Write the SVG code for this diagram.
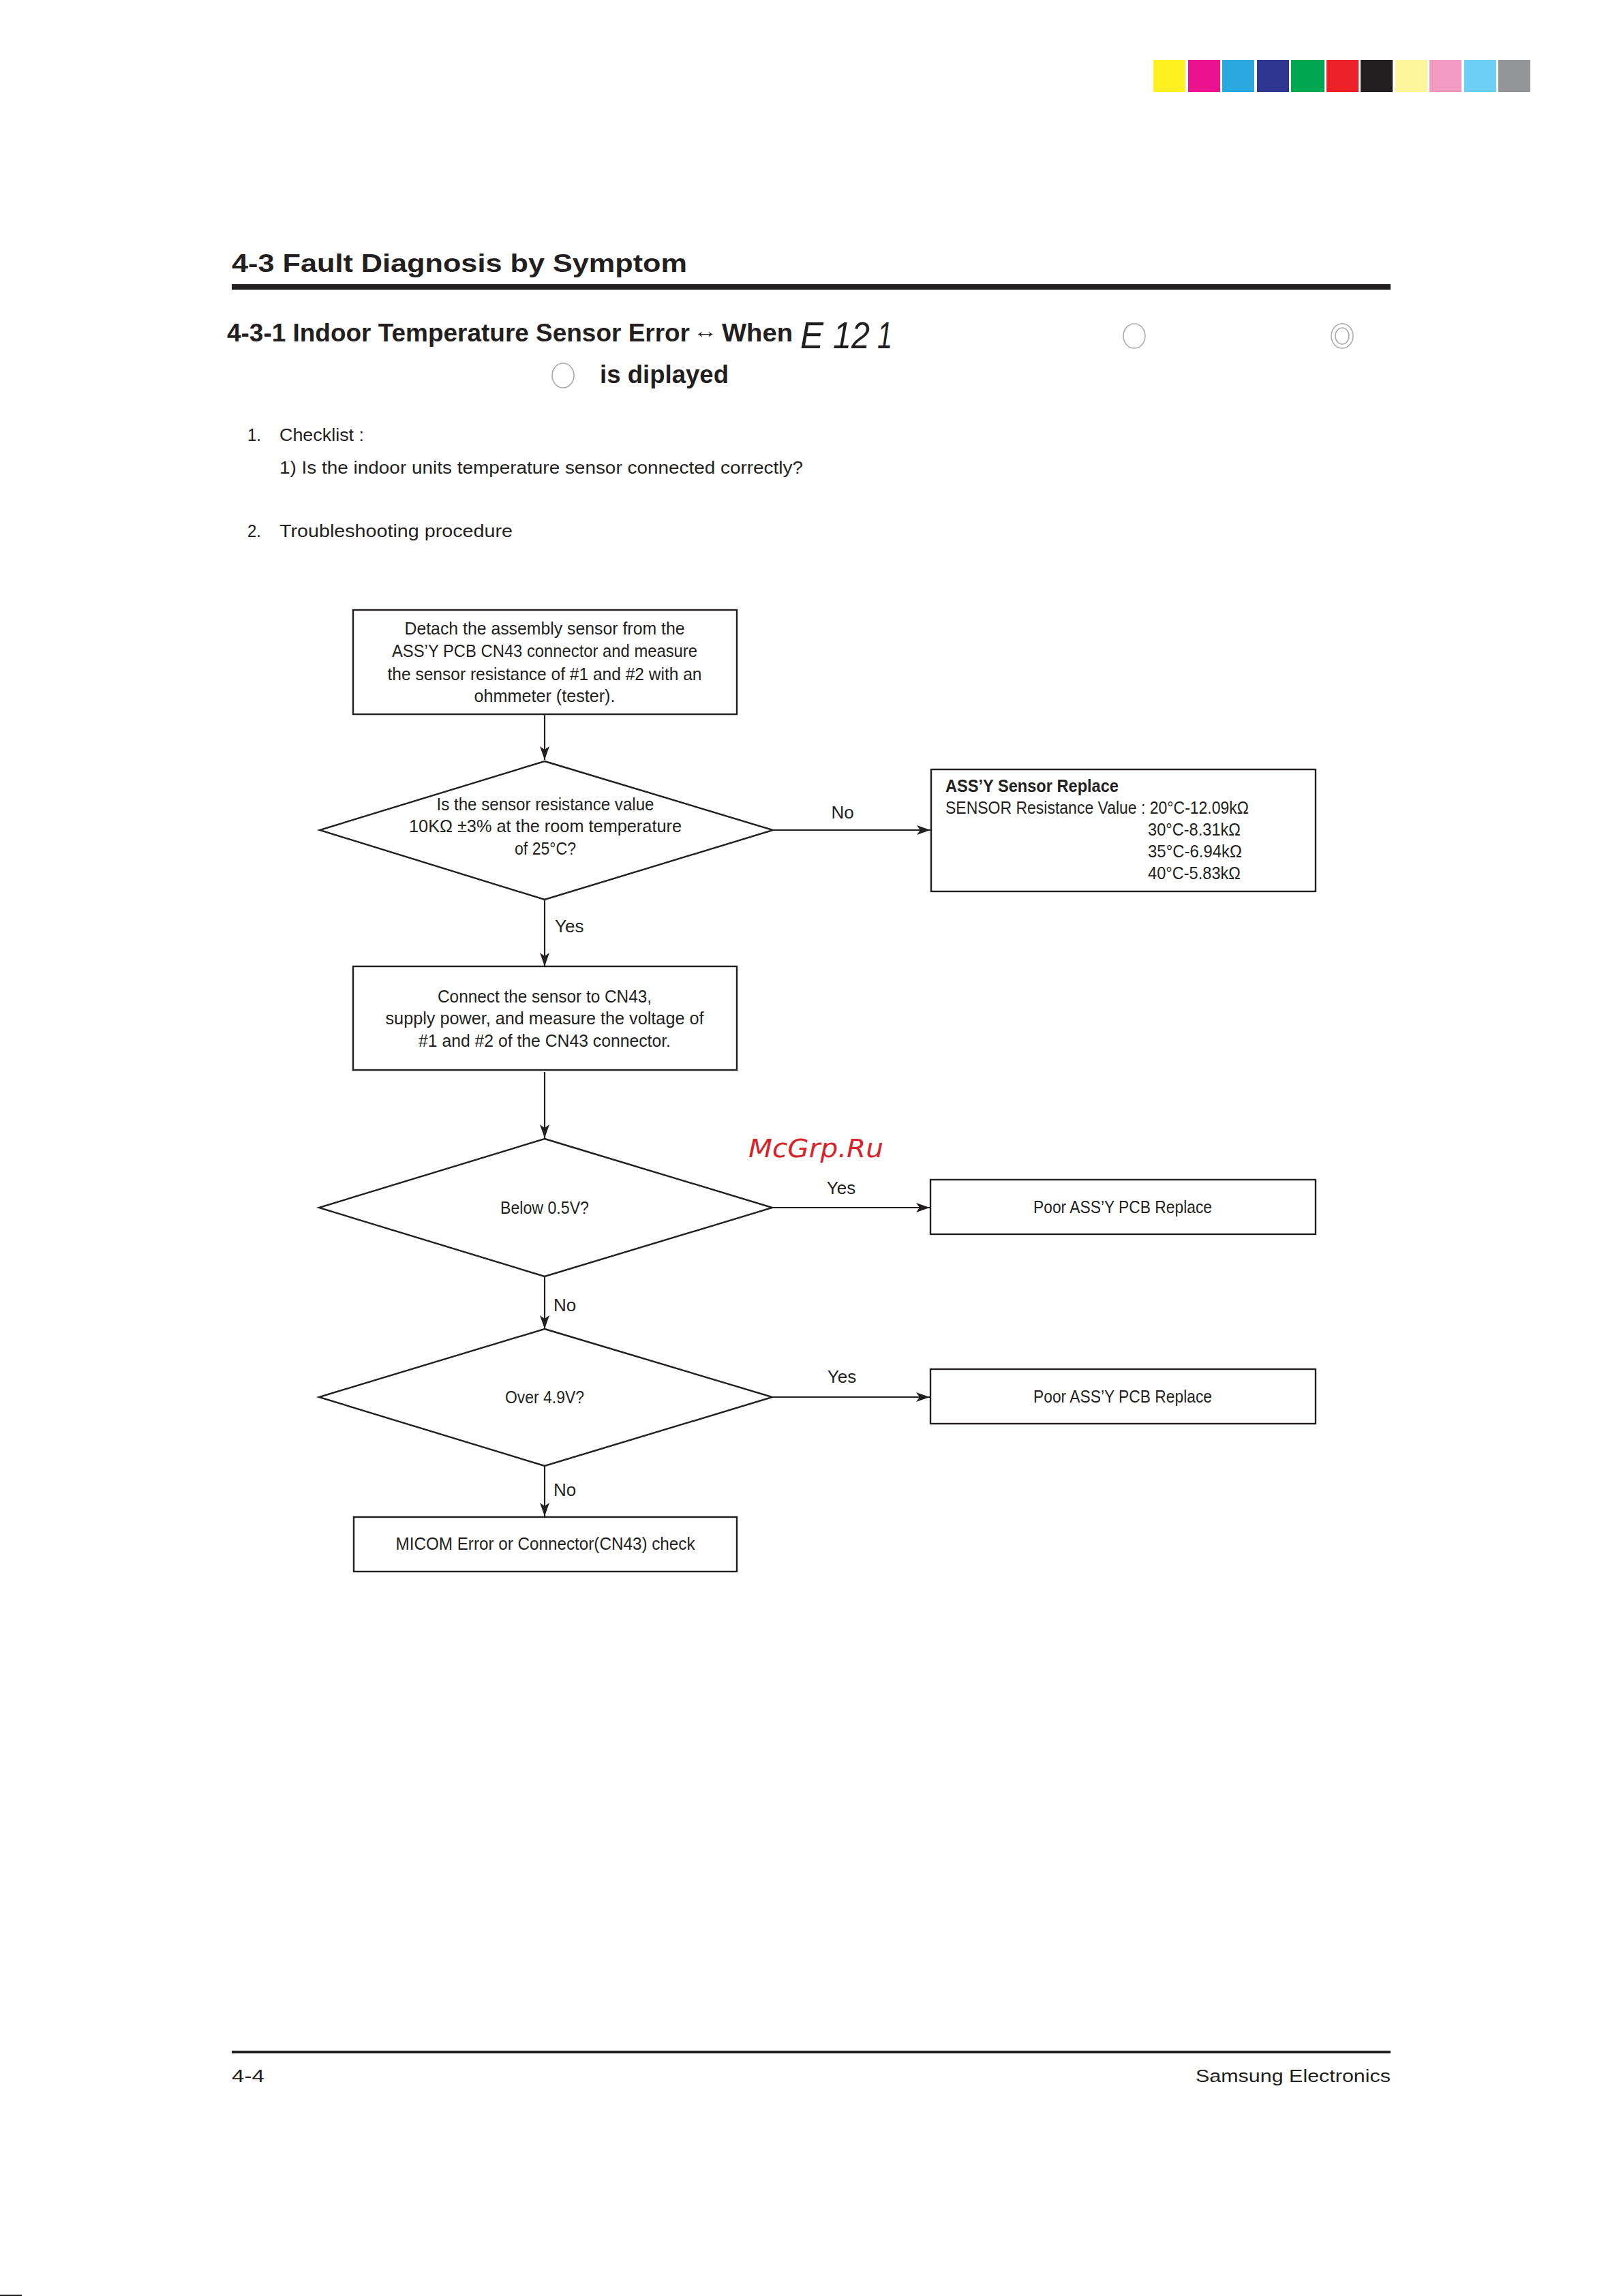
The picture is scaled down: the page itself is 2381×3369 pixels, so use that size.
<svg xmlns="http://www.w3.org/2000/svg" width="2381" height="3369" viewBox="0 0 2381 3369">
<style>
.t{font-family:"Liberation Sans",Arial,sans-serif;font-size:26px;fill:#231F20}
.c{text-anchor:middle}
.b{font-weight:bold}
.h{font-family:"Liberation Sans",Arial,sans-serif;font-weight:bold;font-size:37px;fill:#231F20}
.box{fill:#fff;stroke:#231F20;stroke-width:2.4}
.ln{fill:none;stroke:#231F20;stroke-width:2.2}
.circ{fill:none;stroke:#A7A9AC;stroke-width:1.6}
.seg{font-family:"Liberation Sans",Arial,sans-serif;font-style:italic;font-size:56px;fill:#231F20}
</style>
<defs>
<marker id="ah" markerUnits="userSpaceOnUse" markerWidth="22" markerHeight="16" refX="20" refY="7" orient="auto">
<path d="M0,0 L20,7 L0,14 L5,7 Z" fill="#231F20"/>
</marker>
</defs>
<rect width="2381" height="3369" fill="#fff"/>
<g id="colorbar">
<rect x="1692" y="88" width="47" height="47" fill="#FFF022"/>
<rect x="1743" y="88" width="47" height="47" fill="#EC118F"/>
<rect x="1793" y="88" width="47" height="47" fill="#2CA8E0"/>
<rect x="1844" y="88" width="47" height="47" fill="#2E368F"/>
<rect x="1894" y="88" width="49" height="47" fill="#00A650"/>
<rect x="1946" y="88" width="47" height="47" fill="#ED2227"/>
<rect x="1996" y="88" width="47" height="47" fill="#231F20"/>
<rect x="2047" y="88" width="47" height="47" fill="#FFF59B"/>
<rect x="2097" y="88" width="47" height="47" fill="#F39AC1"/>
<rect x="2148" y="88" width="47" height="47" fill="#6DCFF6"/>
<rect x="2198" y="88" width="47" height="47" fill="#939598"/>
</g>
<g id="header">
<text class="h" x="340" y="399" font-size="43" textLength="668" lengthAdjust="spacingAndGlyphs">4-3 Fault Diagnosis by Symptom</text>
<rect x="340" y="417" width="1700" height="8" fill="#231F20"/>
<text class="h" x="333" y="501" textLength="679" lengthAdjust="spacingAndGlyphs">4-3-1 Indoor Temperature Sensor Error</text>
<text class="t" x="1017" y="495" font-size="26" textLength="36" lengthAdjust="spacingAndGlyphs">↔</text>
<text class="h" x="1059" y="501" textLength="104" lengthAdjust="spacingAndGlyphs">When</text>
<text class="seg" x="1174" y="511" textLength="34" lengthAdjust="spacingAndGlyphs">E</text>
<text class="seg" x="1222" y="511" textLength="54" lengthAdjust="spacingAndGlyphs">12</text>
<text class="seg" x="1287" y="511" textLength="22" lengthAdjust="spacingAndGlyphs">1</text>
<ellipse class="circ" cx="1664" cy="493" rx="16" ry="18"/>
<ellipse class="circ" cx="1969" cy="493" rx="16" ry="18"/>
<ellipse class="circ" cx="1969" cy="493" rx="10" ry="12"/>
<ellipse class="circ" cx="826" cy="551" rx="16" ry="18"/>
<text class="h" x="880" y="562" textLength="189" lengthAdjust="spacingAndGlyphs">is diplayed</text>
</g>
<g id="checklist">
<text class="t" x="363" y="647" font-size="27" textLength="20" lengthAdjust="spacingAndGlyphs">1.</text>
<text class="t" x="410" y="647" font-size="27" textLength="124" lengthAdjust="spacingAndGlyphs">Checklist :</text>
<text class="t" x="410" y="695" font-size="27" textLength="768" lengthAdjust="spacingAndGlyphs">1) Is the indoor units temperature sensor connected correctly?</text>
<text class="t" x="363" y="788" font-size="27" textLength="20" lengthAdjust="spacingAndGlyphs">2.</text>
<text class="t" x="410" y="788" font-size="27" textLength="342" lengthAdjust="spacingAndGlyphs">Troubleshooting procedure</text>
</g>
<g id="connectors">
<line class="ln" x1="799" y1="1049" x2="799" y2="1115" marker-end="url(#ah)"/>
<line class="ln" x1="1134" y1="1218" x2="1365" y2="1218" marker-end="url(#ah)"/>
<line class="ln" x1="799" y1="1320" x2="799" y2="1418" marker-end="url(#ah)"/>
<line class="ln" x1="799" y1="1573" x2="799" y2="1670" marker-end="url(#ah)"/>
<line class="ln" x1="1133" y1="1772" x2="1364" y2="1772" marker-end="url(#ah)"/>
<line class="ln" x1="799" y1="1873" x2="799" y2="1950" marker-end="url(#ah)"/>
<line class="ln" x1="1133" y1="2050" x2="1364" y2="2050" marker-end="url(#ah)"/>
<line class="ln" x1="799" y1="2151" x2="799" y2="2225" marker-end="url(#ah)"/>
<text class="t c" x="1236" y="1201">No</text>
<text class="t" x="814" y="1368">Yes</text>
<text class="t c" x="1234" y="1752">Yes</text>
<text class="t" x="812" y="1924">No</text>
<text class="t c" x="1235" y="2029">Yes</text>
<text class="t" x="812" y="2195">No</text>
</g>
<g id="n1">
<rect class="box" x="518" y="895" width="563" height="153"/>
<text class="t c" x="799" y="931" font-size="26" textLength="411" lengthAdjust="spacingAndGlyphs">Detach the assembly sensor from the</text>
<text class="t c" x="799" y="964" font-size="26" textLength="448" lengthAdjust="spacingAndGlyphs">ASS’Y PCB CN43 connector and measure</text>
<text class="t c" x="799" y="998" font-size="26" textLength="461" lengthAdjust="spacingAndGlyphs">the sensor resistance of #1 and #2 with an</text>
<text class="t c" x="799" y="1030" font-size="26" textLength="207" lengthAdjust="spacingAndGlyphs">ohmmeter (tester).</text>
</g>
<g id="d1">
<polygon class="box" points="799,1117 1134,1218 799,1320 469,1218"/>
<text class="t c" x="800" y="1189" font-size="26" textLength="319" lengthAdjust="spacingAndGlyphs">Is the sensor resistance value</text>
<text class="t c" x="800" y="1221" font-size="26" textLength="400" lengthAdjust="spacingAndGlyphs">10KΩ ±3% at the room temperature</text>
<text class="t c" x="800" y="1254" font-size="26" textLength="90" lengthAdjust="spacingAndGlyphs">of 25°C?</text>
</g>
<g id="n2">
<rect class="box" x="1366" y="1129" width="564" height="179"/>
<text class="t b" x="1387" y="1162" font-size="26" textLength="254" lengthAdjust="spacingAndGlyphs">ASS’Y Sensor Replace</text>
<text class="t" x="1387" y="1194" font-size="26" textLength="445" lengthAdjust="spacingAndGlyphs">SENSOR Resistance Value : 20°C-12.09kΩ</text>
<text class="t" x="1684" y="1226" font-size="26" textLength="136" lengthAdjust="spacingAndGlyphs">30°C-8.31kΩ</text>
<text class="t" x="1684" y="1258" font-size="26" textLength="138" lengthAdjust="spacingAndGlyphs">35°C-6.94kΩ</text>
<text class="t" x="1684" y="1290" font-size="26" textLength="136" lengthAdjust="spacingAndGlyphs">40°C-5.83kΩ</text>
</g>
<g id="n3">
<rect class="box" x="518" y="1418" width="563" height="152"/>
<text class="t c" x="799" y="1471" font-size="26" textLength="314" lengthAdjust="spacingAndGlyphs">Connect the sensor to CN43,</text>
<text class="t c" x="799" y="1503" font-size="26" textLength="467" lengthAdjust="spacingAndGlyphs">supply power, and measure the voltage of</text>
<text class="t c" x="799" y="1536" font-size="26" textLength="370" lengthAdjust="spacingAndGlyphs">#1 and #2 of the CN43 connector.</text>
</g>
<g id="d2">
<polygon class="box" points="799,1671 1133,1772 799,1873 468,1772"/>
<text class="t c" x="799" y="1781" font-size="26" textLength="130" lengthAdjust="spacingAndGlyphs">Below 0.5V?</text>
</g>
<g id="n4">
<rect class="box" x="1365" y="1731" width="565" height="80"/>
<text class="t c" x="1647" y="1780" font-size="26" textLength="262" lengthAdjust="spacingAndGlyphs">Poor ASS’Y PCB Replace</text>
</g>
<g id="d3">
<polygon class="box" points="799,1950 1133,2050 799,2151 468,2050"/>
<text class="t c" x="799" y="2059" font-size="26" textLength="116" lengthAdjust="spacingAndGlyphs">Over 4.9V?</text>
</g>
<g id="n5">
<rect class="box" x="1365" y="2009" width="565" height="80"/>
<text class="t c" x="1647" y="2058" font-size="26" textLength="262" lengthAdjust="spacingAndGlyphs">Poor ASS’Y PCB Replace</text>
</g>
<g id="n6">
<rect class="box" x="519" y="2226" width="562" height="80"/>
<text class="t c" x="800" y="2274" font-size="26" textLength="439" lengthAdjust="spacingAndGlyphs">MICOM Error or Connector(CN43) check</text>
</g>
<g id="watermark">
<text x="1098" y="1698" font-family="DejaVu Sans, sans-serif" font-style="italic" font-size="38" fill="#D9232A" textLength="198" lengthAdjust="spacingAndGlyphs">McGrp.Ru</text>
</g>
<g id="footer">
<rect x="340" y="3009" width="1700" height="4" fill="#231F20"/>
<text class="t" x="340" y="3055" font-size="33" textLength="48" lengthAdjust="spacingAndGlyphs">4-4</text>
<text class="t" x="1754" y="3055" font-size="33" textLength="286" lengthAdjust="spacingAndGlyphs">Samsung Electronics</text>
<rect x="0" y="3367" width="32" height="2" fill="#231F20"/>
</g>
</svg>
